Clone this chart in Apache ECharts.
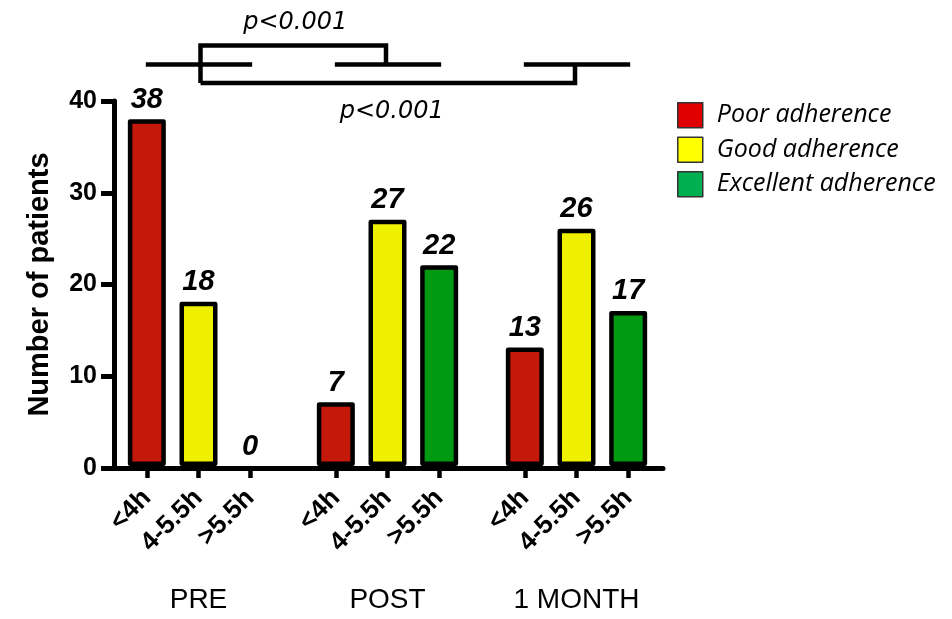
<!DOCTYPE html>
<html>
<head>
<meta charset="utf-8">
<script src="https://cdn.jsdelivr.net/npm/echarts@6/dist/echarts.min.js"></script>
<style>
html,body{margin:0;padding:0;background:#fff;}
#chart{width:952px;height:619px;}
</style>
</head>
<body>
<div id="chart"></div>
<script>
// ---- data ----
const hours = ['<4h', '4-5.5h', '>5.5h'];
const groups = ['PRE', 'POST', '1 MONTH'];
const poorCounts = [38, 7, 13];
const goodCounts = [18, 27, 26];
const excellentCounts = [0, 22, 17];
const seriesNames = ['Poor adherence', 'Good adherence', 'Excellent adherence'];
const yMin = 0, yMax = 40, yStep = 10;
const pLabels = ['p<0.001', 'p<0.001'];

// ---- styles ----
const barColors = ['#c4180b', '#eef000', '#009a12'];
const legendColors = ['#e00000', '#ffff00', '#00b050'];
const SANS = 'Liberation Sans, Arial, sans-serif';

const chart = echarts.init(document.getElementById('chart'), null, {renderer: 'canvas'});

const counts = [poorCounts, goodCounts, excellentCounts];
const groupLefts = [121, 310, 499];
const groupWidth = 155;
const gridTop = 101, gridBottom = 151;

const grids = [{left: 114, right: 289, top: gridTop, bottom: gridBottom}];
const xAxes = [{
  gridIndex: 0, type: 'value', min: 0, max: 1,
  axisLine: {show: true, onZero: false, lineStyle: {color: '#000', width: 5}},
  axisTick: {show: false}, axisLabel: {show: false}, splitLine: {show: false}
}];
const yAxes = [{
  gridIndex: 0, type: 'value', min: yMin, max: yMax, interval: yStep,
  name: 'Number of patients', nameLocation: 'middle', nameGap: 60,
  nameTextStyle: {fontFamily: SANS, fontWeight: 'bold', fontSize: 29, color: '#000'},
  axisLine: {show: true, lineStyle: {color: '#000', width: 5}},
  axisTick: {show: true, length: 13, lineStyle: {color: '#000', width: 5}},
  axisLabel: {margin: 17, fontFamily: SANS, fontWeight: 'bold', fontSize: 25, color: '#000'},
  splitLine: {show: false}
}];
const series = [];

groups.forEach((g, gi) => {
  const idx = gi + 1;
  grids.push({left: groupLefts[gi], width: groupWidth, top: gridTop, bottom: gridBottom});
  xAxes.push({
    gridIndex: idx, type: 'category', data: hours,
    name: g, nameLocation: 'middle', nameGap: 120,
    nameTextStyle: {fontFamily: SANS, fontSize: 28, color: '#000'},
    axisLine: {show: false},
    axisTick: {show: true, alignWithLabel: true, length: 12, lineStyle: {color: '#000', width: 4.5}},
    axisLabel: {rotate: 45, margin: 28, interval: 0, fontFamily: SANS, fontWeight: 'bold', fontSize: 26, color: '#000'}
  });
  yAxes.push({gridIndex: idx, type: 'value', min: yMin, max: yMax, interval: yStep, show: false});
  seriesNames.forEach((sn, ti) => {
    series.push({
      name: sn, type: 'bar', xAxisIndex: idx, yAxisIndex: idx,
      barWidth: 38, barGap: '-100%',
      data: hours.map((h, hi) => {
        if (hi !== ti) return '-';
        const v = counts[ti][gi];
        return v === 0 ? {value: v, itemStyle: {borderWidth: 0}} : v;
      }),
      itemStyle: {color: barColors[ti], borderColor: '#000', borderWidth: 4.5, borderJoin: 'round'},
      label: {show: true, position: 'top', distance: 5, formatter: p => p.value,
        fontFamily: SANS, fontWeight: 'bold', fontStyle: 'italic', fontSize: 29, color: '#000'},
      emphasis: {disabled: true},
      animation: false
    });
  });
});

chart.setOption({
  animation: false,
  grid: grids,
  xAxis: xAxes,
  yAxis: yAxes,
  legend: {
    orient: 'vertical', left: 677, top: 102, padding: 0,
    itemWidth: 25, itemHeight: 25, itemGap: 8,
    icon: 'rect',
    selectedMode: false,
    textStyle: {fontFamily: 'Open Sans, sans-serif', fontStyle: 'italic', fontSize: 25, color: '#000', lineHeight: 25, height: 25, padding: [0, 0, 0, 9]},
    data: seriesNames.map((n, i) => ({name: n, itemStyle: {color: legendColors[i], borderColor: '#333', borderWidth: 1.5}}))
  },
  series: series
});

// ---- significance brackets (positions from the category axes) ----
function cx(gi, hi) { return chart.convertToPixel({xAxisIndex: gi + 1}, hours[hi]); }
const segY = 64.5, upY = 45.5, lowY = 83;
const lineStyle = {stroke: '#000', lineWidth: 4.5, fill: null};
const gfx = [];
groups.forEach((g, gi) => {
  gfx.push({type: 'line', shape: {x1: cx(gi, 0) - 1, y1: segY, x2: cx(gi, 2) + 2, y2: segY}, style: lineStyle, silent: true});
});
const c0 = cx(0, 1) + 2, c1 = cx(1, 1) - 1.5, c2 = cx(2, 1) - 1.5;
gfx.push({type: 'polyline', shape: {points: [[c0, lowY], [c0, upY], [c1, upY], [c1, segY]]}, style: lineStyle, silent: true});
gfx.push({type: 'polyline', shape: {points: [[c0, lowY], [c2, lowY], [c2, segY]]}, style: lineStyle, silent: true});
gfx.push({type: 'text', x: (c0 + c1) / 2 + 2, y: 23, style: {text: pLabels[0], fontFamily: 'DejaVu Sans, sans-serif', fontStyle: 'italic', fontSize: 24, fill: '#000', align: 'center', verticalAlign: 'middle'}, silent: true});
gfx.push({type: 'text', x: (c0 + c2) / 2 + 4, y: 112, style: {text: pLabels[1], fontFamily: 'DejaVu Sans, sans-serif', fontStyle: 'italic', fontSize: 24, fill: '#000', align: 'center', verticalAlign: 'middle'}, silent: true});
chart.setOption({graphic: gfx});
</script>
</body>
</html>
